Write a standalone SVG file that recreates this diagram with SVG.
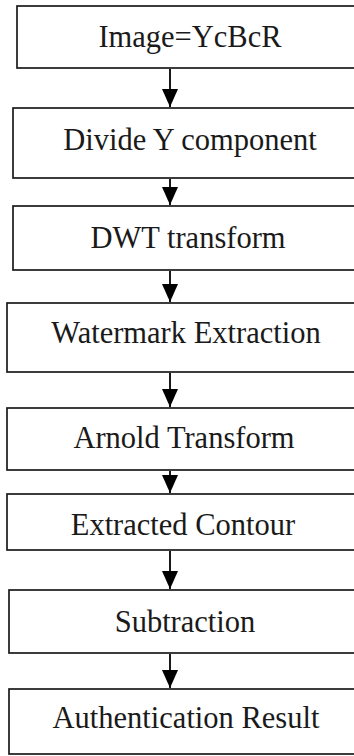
<svg xmlns="http://www.w3.org/2000/svg" width="354" height="756" viewBox="0 0 354 756">
  <defs>
    <style>
      .box { fill: #ffffff; stroke: #1a1a1a; stroke-width: 1.7; }
      .label { font-family: "Times New Roman", "Liberation Serif", Tinos, "DejaVu Serif", serif; font-size: 30.5px; fill: #1a1a1a; text-anchor: middle; }
      .edge { stroke: #000000; stroke-width: 1.8; fill: none; marker-end: url(#head); }
    </style>
    <!-- solid triangular arrowhead, tip at the end of the line -->
    <marker id="head" viewBox="0 0 18 16" markerWidth="18" markerHeight="16" refX="18" refY="8" orient="auto" markerUnits="userSpaceOnUse">
      <path d="M0,0 L18,8 L0,16 Z" fill="#000000"/>
    </marker>
  </defs>
  <rect width="354" height="756" fill="#ffffff"/>

  <g id="n1">
    <rect class="box" x="17" y="6" width="350" height="62"/>
    <text class="label" x="190" y="47">Image=YcBcR</text>
  </g>
  <g id="n2">
    <rect class="box" x="13" y="108" width="354" height="70"/>
    <text class="label" x="190" y="150">Divide Y component</text>
  </g>
  <g id="n3">
    <rect class="box" x="13" y="206" width="354" height="64"/>
    <text class="label" x="188" y="248">DWT transform</text>
  </g>
  <g id="n4">
    <rect class="box" x="7" y="303" width="360" height="69"/>
    <text class="label" x="186" y="343">Watermark Extraction</text>
  </g>
  <g id="n5">
    <rect class="box" x="7" y="408" width="360" height="62"/>
    <text class="label" x="184" y="448">Arnold Transform</text>
  </g>
  <g id="n6">
    <rect class="box" x="7" y="494" width="360" height="56"/>
    <text class="label" x="183" y="535">Extracted Contour</text>
  </g>
  <g id="n7">
    <rect class="box" x="9" y="590" width="358" height="63"/>
    <text class="label" x="185" y="632">Subtraction</text>
  </g>
  <g id="n8">
    <rect class="box" x="9" y="689" width="358" height="65"/>
    <text class="label" x="186" y="728">Authentication Result</text>
  </g>

  <g id="connectors">
    <line class="edge" x1="170" y1="69" x2="170" y2="107"/>
    <line class="edge" x1="170" y1="179" x2="170" y2="205"/>
    <line class="edge" x1="170" y1="271" x2="170" y2="302"/>
    <line class="edge" x1="170" y1="373" x2="170" y2="407"/>
    <line class="edge" x1="170" y1="471" x2="170" y2="493"/>
    <line class="edge" x1="170" y1="551" x2="170" y2="589"/>
    <line class="edge" x1="170" y1="654" x2="170" y2="688"/>
  </g>
</svg>
